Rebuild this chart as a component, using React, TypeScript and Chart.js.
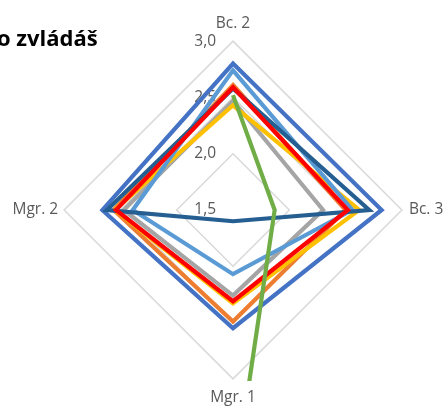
import React, { useEffect, useRef } from "react";
import { Chart, registerables } from "chart.js";

Chart.register(...registerables);

const categories = ["Bc. 2", "Bc. 3", "Mgr. 1", "Mgr. 2"];
const tickLabels = ["1,5", "2,0", "2,5", "3,0"];

const seriesBlue = [2.8, 2.82, 2.55, 2.66];
const seriesOrange = [2.61, 2.5, 2.49, 2.56];
const seriesGray = [2.47, 2.3, 2.26, 2.47];
const seriesYellow = [2.43, 2.62, 2.33, 2.55];
const seriesLightBlue = [2.74, 2.56, 2.07, 2.39];
const seriesGreen = [2.52, 1.87, 4.0, null];
const seriesDarkBlue = [2.58, 2.71, 1.6, 2.62];
const seriesRed = [2.59, 2.52, 2.31, 2.54];

const FONT = "'Open Sans', 'DejaVu Sans', sans-serif";

const tickPlugin = {
  id: "leftTicks",
  beforeDatasetsDraw(chart: any) {
    const s = chart.scales.r;
    const ctx = chart.ctx;
    ctx.save();
    ctx.font = `15.5px ${FONT}`;
    ctx.fillStyle = "#595959";
    ctx.textAlign = "right";
    ctx.textBaseline = "middle";
    s.ticks.forEach((t: any, i: number) => {
      const y = s.yCenter - s.getDistanceFromCenterForValue(t.value);
      ctx.fillText(tickLabels[i] ?? t.label, s.xCenter - 17, y);
    });
    ctx.restore();
  },
};

export default function App() {
  const ref = useRef<HTMLCanvasElement | null>(null);
  useEffect(() => {
    if (!ref.current) return;
    const plotClip = { left: 0, top: -27, right: 0, bottom: -27 };
    const mk = (label: string, data: (number | null)[], color: string, order: number) => ({
      label,
      data,
      borderColor: color,
      backgroundColor: "transparent",
      borderWidth: 4.2,
      pointRadius: 0,
      pointHoverRadius: 0,
      fill: false,
      order,
      clip: plotClip as any,
      spanGaps: false,
    });
    const chart = new Chart(ref.current, {
      type: "radar",
      data: {
        labels: categories,
        datasets: [
          mk("Řada 1", seriesBlue, "#4472C4", 8),
          mk("Řada 2", seriesOrange, "#ED7D31", 7),
          mk("Řada 3", seriesGray, "#A5A5A5", 6),
          mk("Řada 4", seriesYellow, "#FFC000", 5),
          mk("Řada 5", seriesLightBlue, "#5B9BD5", 4),
          mk("Řada 6", seriesGreen, "#70AD47", 1),
          mk("Řada 7", seriesDarkBlue, "#255E91", 3),
          mk("Řada 8", seriesRed, "#FF0000", 2),
        ],
      },
      options: {
        responsive: false,
        animation: false,
        plugins: { legend: { display: false }, title: { display: false }, tooltip: { enabled: false } },
        layout: { padding: 0 },
        scales: {
          r: {
            min: 1.5,
            max: 3.0,
            ticks: {
              display: false,
              stepSize: 0.5,
              callback: (v: any, i: number) => tickLabels[i] ?? String(v),
            },
            grid: { color: "#D9D9D9", lineWidth: 1.5, circular: false },
            angleLines: { display: false },
            pointLabels: {
              color: "#595959",
              font: { family: FONT, size: 15.5, lineHeight: 1.2 },
              padding: (ctx: any) => [8.5, 7, 9.5, 6][ctx.index] ?? 7,
            },
          },
        },
      },
      plugins: [tickPlugin],
    });
    return () => chart.destroy();
  }, []);

  return (
    <div
      style={{
        position: "fixed",
        left: 0,
        top: 0,
        width: 447,
        height: 407,
        overflow: "hidden",
        background: "#fff",
      }}
    >
      <canvas
        ref={ref}
        width={700}
        height={394}
        style={{ position: "absolute", left: -117, top: 14, width: 700, height: 394 }}
      />
      <div
        style={{
          position: "absolute",
          left: -3,
          top: 26,
          fontFamily: FONT,
          fontWeight: 700,
          fontSize: 22,
          lineHeight: "22px",
          color: "#000",
          whiteSpace: "nowrap",
        }}
      >
        o zvládáš
      </div>
    </div>
  );
}
